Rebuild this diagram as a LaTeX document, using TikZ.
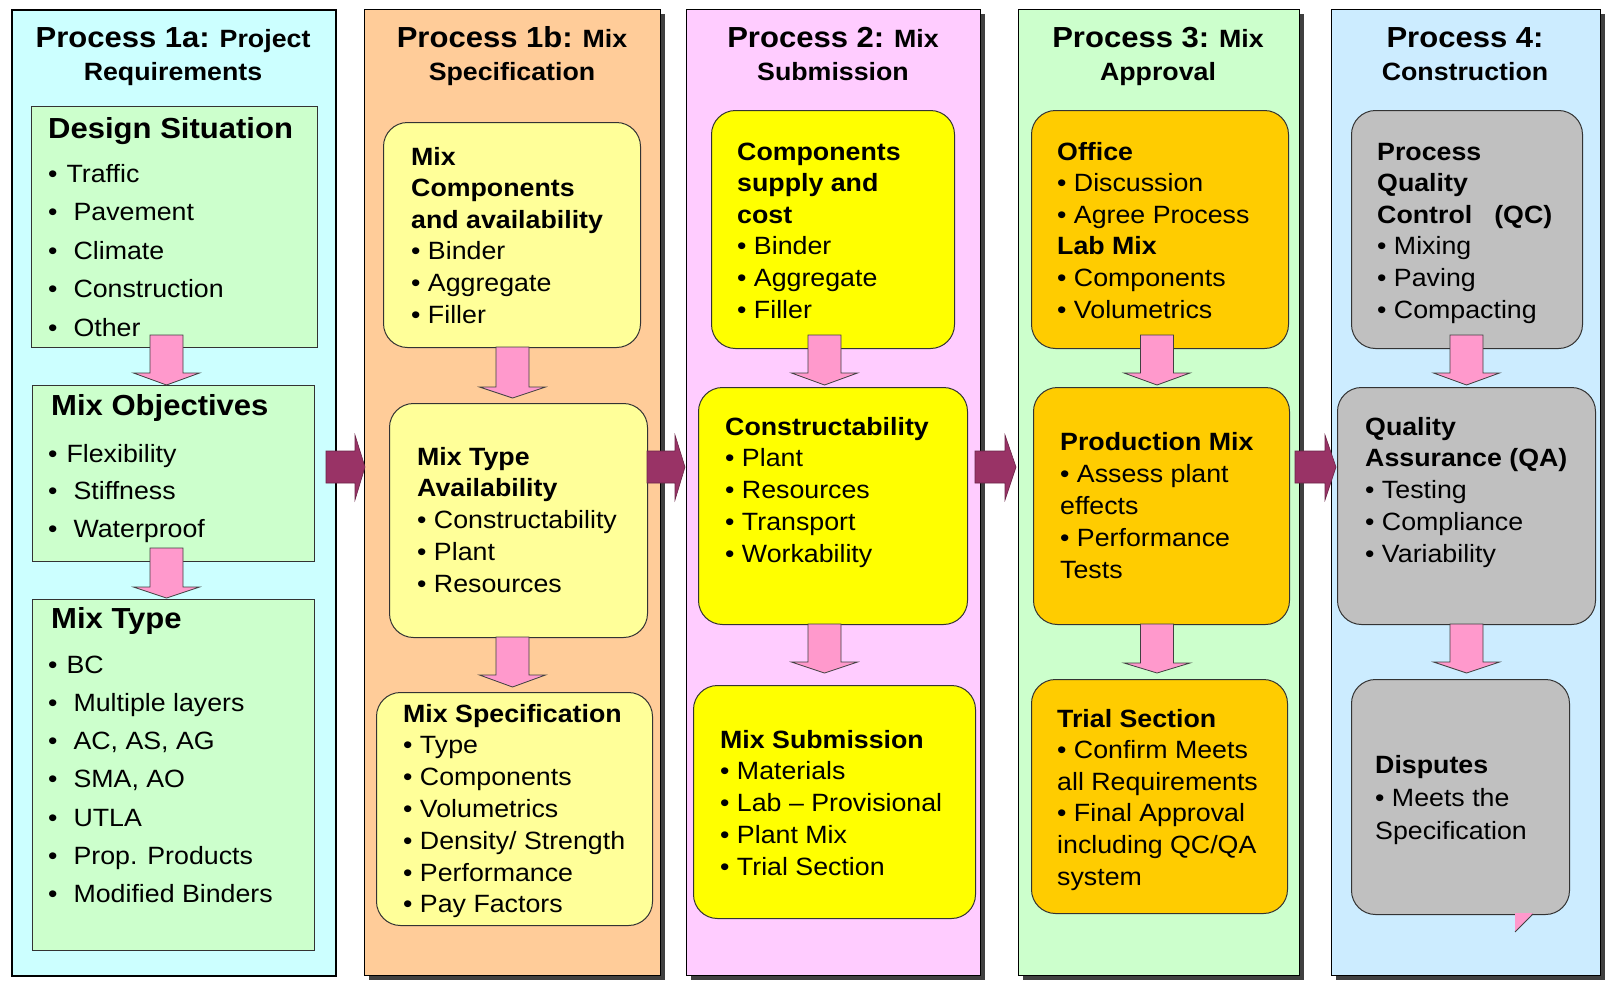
\documentclass[tikz,border=0pt]{standalone}
\usepackage{fontspec}
\setmainfont{Liberation Sans}[FakeStretch=1.07]
\usetikzlibrary{shadows}
\definecolor{cOne}{HTML}{CCFFFF}
\definecolor{cTwo}{HTML}{FFCC99}
\definecolor{cThree}{HTML}{FFCCFF}
\definecolor{cFour}{HTML}{CCFFCC}
\definecolor{cFive}{HTML}{CCECFF}
\definecolor{bOne}{HTML}{CCFFCC}
\definecolor{bTwo}{HTML}{FFFF99}
\definecolor{bThree}{HTML}{FFFF00}
\definecolor{bFour}{HTML}{FFCC00}
\definecolor{bFive}{HTML}{C0C0C0}
\definecolor{pinkA}{HTML}{FF99CC}
\definecolor{purA}{HTML}{993366}
\tikzset{
  colbox/.style={draw=black, line width=1.2pt, drop shadow={shadow xshift=4pt, shadow yshift=-4pt, fill=black!75, opacity=1}},
  colone/.style={draw=black, line width=2.4pt},
  sqbox/.style={draw=black!80, line width=1pt, fill=bOne},
  rbox/.style={draw=black!80, line width=1pt, rounded corners=24pt},
  txt/.style={anchor=base west, inner sep=0pt},
  pinkarr/.style={fill=pinkA, draw=black!75, line width=0.8pt, line join=miter},
  purarr/.style={fill=purA, draw=purA!70!black, line width=0.6pt}
}
\newcommand{\bx}[6]{\node[#2, anchor=north west, inner sep=0pt, minimum width={(#5)-(#3)}, minimum height={(#6)-(#4)}] (#1) at (#3,#4) {};}
\newcommand{\tx}[5]{\node[txt, font=\fontsize{25}{#4}\selectfont] (#1) at (#2,#3) {\begin{tabular}[t]{@{}l@{}}#5\end{tabular}};}
\newcommand{\bigp}[1]{{\fontsize{29}{33}\selectfont #1}}
\newcommand{\hd}[5]{\node[anchor=base, inner sep=0pt, font=\fontsize{25}{33}\selectfont\bfseries] (#1) at (#2,#3) {\begin{tabular}[t]{@{}c@{}}#4\\#5\end{tabular}};}
\newcommand{\pa}[5]{\draw[pinkarr] (#2-16.5,#3) -- (#2+16.5,#3) -- (#2+16.5,#4) -- (#2+33,#4) -- (#2,#5) -- (#2-33,#4) -- (#2-16.5,#4) -- cycle;}
\newcommand{\pu}[3]{\draw[purarr] (#1,451) -- (#2,451) -- (#2,435) -- (#3,467) -- (#2,500) -- (#2,483) -- (#1,483) -- cycle;}
\newcommand{\bt}{•\hspace{9pt}}
\newcommand{\bw}{•\hspace{16pt}}
\begin{document}
\begin{tikzpicture}[x=1pt,y=-1pt]
\fill[white] (0,0) rectangle (1616,988);
\useasboundingbox (0,0) rectangle (1616,988);
% columns
\bx{colA}{colone, fill=cOne}{11}{9}{335}{975}
\bx{colB}{colbox, fill=cTwo}{364}{9}{660}{975}
\bx{colC}{colbox, fill=cThree}{686}{9}{980}{975}
\bx{colD}{colbox, fill=cFour}{1018}{9}{1299}{975}
\bx{colE}{colbox, fill=cFive}{1331}{9}{1600}{975}
% headers
\hd{hA}{173}{47}{\bigp{Process 1a:} Project}{Requirements}
\hd{hB}{512}{47}{\bigp{Process 1b:} Mix}{Specification}
\hd{hC}{833}{47}{\bigp{Process 2:} Mix}{Submission}
\hd{hD}{1158}{47}{\bigp{Process 3:} Mix}{Approval}
\hd{hE}{1465}{47}{\bigp{Process 4:}}{Construction}
% column 1 boxes
\bx{ds}{sqbox}{31}{106}{317}{347}
\bx{mo}{sqbox}{32}{385}{314}{561}
\bx{mt}{sqbox}{32}{599}{314}{950}
\node[txt, font=\fontsize{29}{35}\selectfont\bfseries] (dsT) at (48,138) {Design Situation};
\tx{dsL}{48}{182}{38.5}{\bt Traffic\\ \bw Pavement\\ \bw Climate\\ \bw Construction\\ \bw Other}
\node[txt, font=\fontsize{29}{35}\selectfont\bfseries] (moT) at (51,415) {Mix Objectives};
\tx{moL}{48}{462}{37.5}{\bt Flexibility\\ \bw Stiffness\\ \bw Waterproof}
\node[txt, font=\fontsize{29}{35}\selectfont\bfseries] (mtT) at (51,628) {Mix Type};
\tx{mtL}{48}{673}{38.3}{\bt BC\\ \bw Multiple layers\\ \bw AC, AS, AG\\ \bw SMA, AO\\ \bw UTLA\\ \bw Prop. Products\\ \bw Modified Binders}
% column 2 boxes
\bx{bA}{rbox, fill=bTwo}{383}{122}{640}{347}
\bx{bB}{rbox, fill=bTwo}{389}{403}{647}{637}
\bx{bC}{rbox, fill=bTwo}{376}{692}{652}{925}
\tx{bAt}{411}{165}{31.6}{\textbf{Mix}\\ \textbf{Components}\\ \textbf{and availability}\\ • Binder\\ • Aggregate\\ • Filler}
\tx{bBt}{417}{465}{31.8}{\textbf{Mix Type}\\ \textbf{Availability}\\ • Constructability\\ • Plant\\ • Resources}
\tx{bCt}{403}{722}{31.8}{\textbf{Mix Specification}\\ • Type\\ • Components\\ • Volumetrics\\ • Density/ Strength\\ • Performance\\ • Pay Factors}
% column 3 boxes
\bx{cA}{rbox, fill=bThree}{711}{110}{954}{348}
\bx{cB}{rbox, fill=bThree}{698}{387}{967}{624}
\bx{cC}{rbox, fill=bThree}{693}{685}{975}{918}
\tx{cAt}{737}{160}{31.6}{\textbf{Components}\\ \textbf{supply and}\\ \textbf{cost}\\ • Binder\\ • Aggregate\\ • Filler}
\tx{cBt}{725}{435}{31.75}{\textbf{Constructability}\\ • Plant\\ • Resources\\ • Transport\\ • Workability}
\tx{cCt}{720}{748}{31.75}{\textbf{Mix Submission}\\ • Materials\\ • Lab – Provisional\\ • Plant Mix\\ • Trial Section}
% column 4 boxes
\bx{dA}{rbox, fill=bFour}{1031}{110}{1288}{348}
\bx{dB}{rbox, fill=bFour}{1033}{387}{1289}{624}
\bx{dC}{rbox, fill=bFour}{1031}{679}{1287}{913}
\tx{dAt}{1057}{160}{31.6}{\textbf{Office}\\ • Discussion\\ • Agree Process\\ \textbf{Lab Mix}\\ • Components\\ • Volumetrics}
\tx{dBt}{1060}{450}{32}{\textbf{Production Mix}\\ • Assess plant\\ effects\\ • Performance\\ Tests}
\tx{dCt}{1057}{727}{31.6}{\textbf{Trial Section}\\ • Confirm Meets\\ all Requirements\\ • Final Approval\\ including QC/QA\\ system}
% column 5 boxes
\bx{eA}{rbox, fill=bFive}{1351}{110}{1582}{348}
\bx{eB}{rbox, fill=bFive}{1337}{387}{1595}{624}
\bx{eC}{rbox, fill=bFive}{1351}{679}{1569}{914}
\tx{eAt}{1377}{160}{31.6}{\textbf{Process}\\ \textbf{Quality}\\ \textbf{Control\hspace{22pt}(QC)}\\ • Mixing\\ • Paving\\ • Compacting}
\tx{eBt}{1365}{435}{31.75}{\textbf{Quality}\\ \textbf{Assurance (QA)}\\ • Testing\\ • Compliance\\ • Variability}
\tx{eCt}{1375}{773}{33}{\textbf{Disputes}\\ • Meets the\\ Specification}
\draw[fill=pinkA, draw=none] (1515,913) -- (1533,913) -- (1515,932) -- cycle;
\draw[black!75, line width=0.8pt] (1515,932) -- (1533,914);
% pink arrows
\pa{aA1}{166.5}{335}{373}{385}
\pa{aA2}{166.5}{548}{587}{598}
\pa{aB1}{512.5}{347}{387}{398}
\pa{aB2}{512.5}{637}{675}{687}
\pa{aC1}{824.5}{335}{373}{385}
\pa{aC2}{824.5}{624}{662}{673}
\pa{aD1}{1157}{335}{373}{385}
\pa{aD2}{1157}{624}{663}{673}
\pa{aE1}{1466.5}{335}{373}{385}
\pa{aE2}{1466.5}{624}{662}{673}
% purple arrows
\pu{326}{355}{365}
\pu{647}{675}{685}
\pu{975}{1005}{1016}
\pu{1295}{1325}{1336}
\end{tikzpicture}
\end{document}
